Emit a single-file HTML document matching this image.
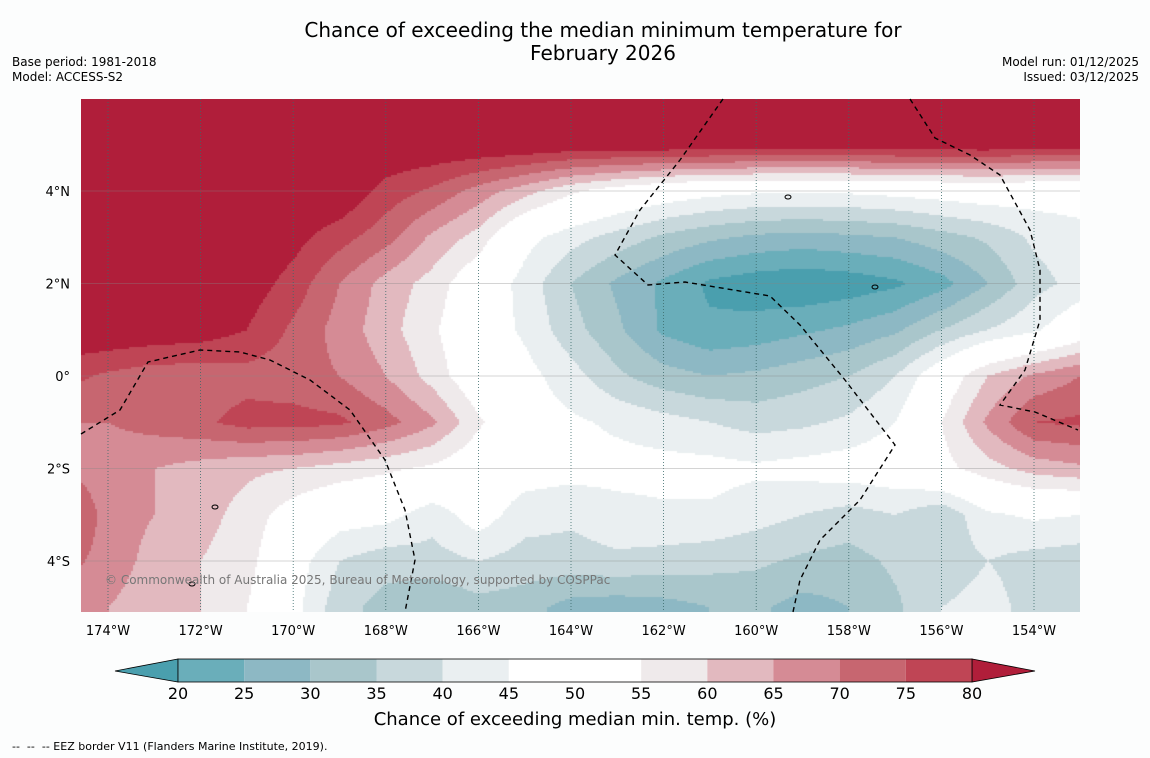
<!DOCTYPE html>
<html><head><meta charset="utf-8">
<style>
body{margin:0;background:#fcfdfd;font-family:"DejaVu Sans",sans-serif;}
#wrap{position:relative;width:1150px;height:758px;overflow:hidden;background:#fcfdfd;}
.t{position:absolute;color:#000;}
</style></head>
<body>
<div id="wrap">
<div class="t" style="left:0;width:1206px;top:19px;text-align:center;font-size:20px;line-height:23px;">Chance of exceeding the median minimum temperature for<br>February 2026</div>
<div class="t" style="left:12px;top:55px;font-size:12px;line-height:15px;">Base period: 1981-2018<br>Model: ACCESS-S2</div>
<div class="t" style="right:11px;top:55px;font-size:12px;line-height:15px;text-align:right;">Model run: 01/12/2025<br>Issued: 03/12/2025</div>
<canvas id="map" width="999" height="513" style="position:absolute;left:81px;top:99px;"></canvas>
<svg id="ov" width="1150" height="758" style="position:absolute;left:0;top:0;"></svg>
<div class="t" style="left:0;width:1150px;text-align:center;top:709px;font-size:18px;">Chance of exceeding median min. temp. (%)</div>
<div class="t" style="left:12px;top:740px;font-size:11px;">--&nbsp; --&nbsp; -- EEZ border V11 (Flanders Marine Institute, 2019).</div>
</div>
<script>
const lons=[-175,-174,-173,-172,-171,-170,-169,-168,-167,-166,-165,-164,-163,-162,-161,-160,-159,-158,-157,-156,-155,-154,-153];
const lats=[6,5,4,3,2,1,0,-1,-2,-3,-4,-5];
const row6=[85,85,85,85,85,85,85,85,85,85,85,85,85,85,85,85,85,85,85,85,85,85,85];
const row5=[85,85,85,85,85,85,85,85,85,85,85,84,84,84,84,84,84,84,84,84,84,83,83];
const row4=[85,85,85,85,85,85,85,78,74,68,62,56,52,49,47,46,46,46,47,48,49,48,48];
const row3=[85,85,85,85,85,82,77,72,64,58,47,42,38,34,31,29,28,29,30,33,36,41,43];
const row2=[85,85,85,85,83,78,70,63,58,50,43,35,29,24,19,17,16,17,19,23,30,38,42];
const row1=[85,85,84,83,80,74,68,62,56,49,44,37,31,24,21,22,24,26,29,35,40,44,50];
const row0=[77,74,72,72,73,72,70,65,58,50,47,42,36,32,30,31,33,35,40,50,60,66,70];
const rowS1=[70,70,72,74,77,77,76,72,66,56,48,46,44,42,40,38,39,41,45,55,66,75,76];
const rowS2=[70,67,65,63,61,60,58,56,54,50,48,47,47,47,47,46,47,48,49,53,58,62,64];
const rowS3=[77,68,65,62,58,52,48,47,42,48,42,41,43,44,44,42,40,38,40,36,44,46,45];
const rowS4=[72,68,63,60,57,48,40,37,38,40,38,38,39,38,37,36,34,33,36,37,40,38,37];
const rowS5=[70,65,62,60,55,47,37,33,30,33,32,28,27,28,30,31,28,30,34,40,42,38,36];
const grid=[row6,row5,row4,row3,row2,row1,row0,rowS1,rowS2,rowS3,rowS4,rowS5];
const levels=[20,25,30,35,40,45,50,55,60,65,70,75,80];
const colors=["#4a9fae","#6aaeba","#8db8c4","#a9c6cb","#c8d8dc","#eaeff1","#ffffff","#ffffff","#efeaeb","#e2b9bf","#d58b95","#c76670","#bf4555","#b01e3a"];
const xTicks=[-174,-172,-170,-168,-166,-164,-162,-160,-158,-156,-154];
const xTickLabels=["174°W","172°W","170°W","168°W","166°W","164°W","162°W","160°W","158°W","156°W","154°W"];
const yTicks=[4,2,0,-2,-4];
const yTickLabels=["4°N","2°N","0°","2°S","4°S"];
const xPx=lon=>108+(lon+174)*46.3;
const yPx=lat=>376-lat*46.25;
const lonAt=x=>-174+(x-108)/46.3;
const latAt=y=>(376-y)/46.25;
function val(lon,lat){
  let fi=(lon-lons[0]);fi=Math.max(0,Math.min(lons.length-1.0001,fi));
  let fj=(lats[0]-lat);fj=Math.max(0,Math.min(lats.length-1.0001,fj));
  const i=Math.floor(fi),j=Math.floor(fj),a=fi-i,b=fj-j;
  return grid[j][i]*(1-a)*(1-b)+grid[j][i+1]*a*(1-b)+grid[j+1][i]*(1-a)*b+grid[j+1][i+1]*a*b;
}
function bin(v){let k=0;while(k<levels.length&&v>=levels[k])k++;return k;}
const ctx=document.getElementById('map').getContext('2d');
const S=2;
for(let py=0;py<513;py+=S){for(let px=0;px<999;px+=S){
  const v=val(lonAt(81+px+S/2),latAt(99+py+S/2));
  ctx.fillStyle=colors[bin(v)];ctx.fillRect(px,py,S,S);
}}
const NS="http://www.w3.org/2000/svg";
const ov=document.getElementById('ov');
function el(tag,attrs,txt){const e=document.createElementNS(NS,tag);for(const k in attrs)e.setAttribute(k,attrs[k]);if(txt!==undefined)e.textContent=txt;ov.appendChild(e);return e;}
xTicks.forEach((lon,i)=>{
  const g=el('line',{x1:xPx(lon),x2:xPx(lon),y1:99,y2:612,stroke:'#3a6a6a','stroke-width':0.8,'stroke-dasharray':'1,2'});
  
  
  const t=el('text',{x:xPx(lon),y:635,'text-anchor':'middle','font-size':13,'font-family':'DejaVu Sans, sans-serif'},xTickLabels[i]);
  
  
});
yTicks.forEach((lat,i)=>{
  const g=el('line',{x1:81,x2:1080,y1:yPx(lat),y2:yPx(lat),stroke:'#888','stroke-width':0.6,opacity:0.7});
  
  
  const t=el('text',{x:70,y:yPx(lat)+5,'text-anchor':'end','font-size':13,'font-family':'DejaVu Sans, sans-serif'},yTickLabels[i]);
  
  
});
const eez=[
 "81,434 120,410 148,362 200,350 240,352 270,360 310,380 350,410 385,460 405,510 415,560 405,612",
 "723,99 680,160 640,210 615,255 648,285 685,282 770,296 800,325 845,380 895,445 860,500 820,540 800,580 793,612",
 "910,99 935,138 970,155 1000,175 1030,230 1040,270 1040,320 1025,370 1000,405 1035,412 1078,430"];
eez.forEach(p=>{const l=el('polyline',{points:p,fill:'none',stroke:'#000','stroke-width':1.4,'stroke-dasharray':'5,4'});
  
  });
[[788,197],[875,287],[215,507],[192,584]].forEach(c=>{const e=el('ellipse',{cx:c[0],cy:c[1],rx:3,ry:2,fill:'none',stroke:'#000','stroke-width':1});
  
  });
const cp=el('text',{x:105,y:584,'font-size':12,fill:'#777','font-family':'DejaVu Sans, sans-serif'},'© Commonwealth of Australia 2025, Bureau of Meteorology, supported by COSPPac');


const cbX=l=>178+(l-20)*(794/60);
const lt=el('polygon',{points:`115,671 ${cbX(20)},659 ${cbX(20)},682`,fill:colors[0],stroke:'#000','stroke-width':0.8});


const rt=el('polygon',{points:`1035,671 ${cbX(80)},659 ${cbX(80)},682`,fill:colors[13],stroke:'#000','stroke-width':0.8});


for(let k=0;k<levels.length-1;k++){
  const r=el('rect',{x:cbX(levels[k]),y:659,width:cbX(levels[k+1])-cbX(levels[k]),height:23,fill:colors[k+1]});
  
  
}
const fr=el('rect',{x:cbX(20),y:659,width:cbX(80)-cbX(20),height:23,fill:'none',stroke:'#000','stroke-width':0.8});


levels.forEach(l=>{const t=el('text',{x:cbX(l),y:699,'text-anchor':'middle','font-size':16,'font-family':'DejaVu Sans, sans-serif'},String(l));
  
  });
</script>
</body></html>
